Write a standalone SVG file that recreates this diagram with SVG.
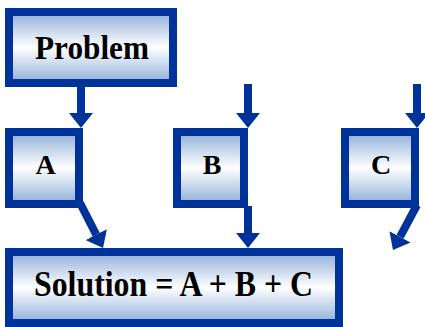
<svg xmlns="http://www.w3.org/2000/svg" width="425" height="327" viewBox="0 0 425 327">
  <defs>
    <linearGradient id="fillGrad" x1="0" y1="0" x2="0" y2="1">
      <stop offset="0" stop-color="#8eaed8"/>
      <stop offset="0.5" stop-color="#ffffff"/>
      <stop offset="1" stop-color="#8eaed8"/>
    </linearGradient>
    <marker id="head" markerUnits="userSpaceOnUse" markerWidth="16" markerHeight="26" viewBox="0 -13 16 26" refX="0" refY="0" orient="auto">
      <path d="M0,-12 L15,0 L0,12 z" fill="#003399"/>
    </marker>
  </defs>
  <style>
    .box { fill: url(#fillGrad); stroke: #003399; stroke-width: 8; }
    .lbl { font-family: "Liberation Serif", "Times New Roman", serif; font-weight: bold; fill: #000; text-anchor: middle; }
    .conn { stroke: #003399; stroke-width: 8; fill: none; marker-end: url(#head); }
  </style>

  <g id="connectors">
    <line class="conn" x1="81" y1="86" x2="81" y2="113"/>
    <line class="conn" x1="248" y1="84" x2="248" y2="113"/>
    <line class="conn" x1="417" y1="84" x2="417" y2="113"/>
    <line class="conn" x1="80" y1="203" x2="96.2" y2="234.6"/>
    <line class="conn" x1="248" y1="206" x2="248" y2="233"/>
    <line class="conn" x1="417" y1="205" x2="400" y2="236.8"/>
  </g>

  <g id="problem">
    <rect class="box" x="9" y="12" width="164" height="71"/>
    <text class="lbl" x="92" y="59" font-size="34" textLength="114" lengthAdjust="spacingAndGlyphs">Problem</text>
  </g>
  <g id="a">
    <rect class="box" x="9" y="132" width="70" height="72"/>
    <text class="lbl" x="45.5" y="174" font-size="28">A</text>
  </g>
  <g id="b">
    <rect class="box" x="177" y="132" width="67" height="72"/>
    <text class="lbl" x="212" y="174" font-size="28">B</text>
  </g>
  <g id="c">
    <rect class="box" x="345" y="132" width="70" height="72"/>
    <text class="lbl" x="381" y="174" font-size="28">C</text>
  </g>
  <g id="solution">
    <rect class="box" x="9" y="252" width="330" height="71"/>
    <text class="lbl" x="173.5" y="296" font-size="35" textLength="279" lengthAdjust="spacingAndGlyphs">Solution = A + B + C</text>
  </g>
</svg>
